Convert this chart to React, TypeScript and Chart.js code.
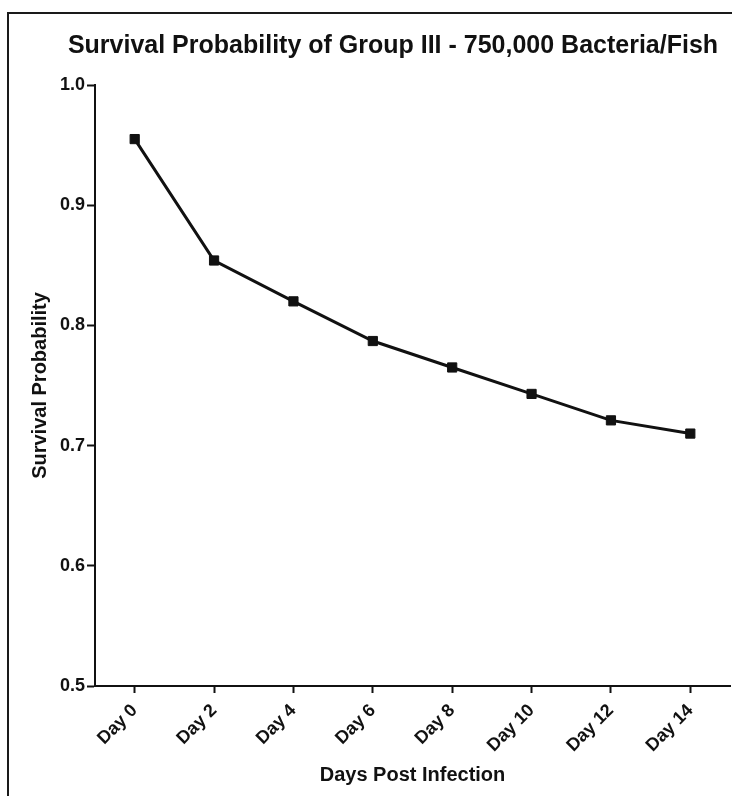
import React, { useEffect, useRef } from "react";
import { Chart, registerables } from "chart.js";

Chart.register(...registerables);

const categories = ["Day 0", "Day 2", "Day 4", "Day 6", "Day 8", "Day 10", "Day 12", "Day 14"];
const survival = [0.955, 0.854, 0.820, 0.787, 0.765, 0.743, 0.721, 0.710];
const yTicks = [0.5, 0.6, 0.7, 0.8, 0.9, 1.0];

const titleText = "Survival Probability of Group III - 750,000 Bacteria/Fish";
const xTitle = "Days Post Infection";
const yTitle = "Survival Probability";

const FAMILY = "'Liberation Sans', Arial, Helvetica, sans-serif";

const framePlugin = {
  id: "frame",
  beforeDraw(chart: any) {
    const ctx = chart.ctx;
    ctx.save();
    ctx.fillStyle = "#ffffff";
    ctx.fillRect(0, 0, chart.width, chart.height);
    ctx.fillStyle = "#1a1a1a";
    ctx.fillRect(7, 12, 2, chart.height - 12);
    ctx.fillRect(7, 12, chart.width - 7, 2);
    ctx.restore();
  },
  afterDraw(chart: any) {
    const ctx = chart.ctx;
    ctx.save();
    ctx.fillStyle = "#111111";
    ctx.font = `bold 25px ${FAMILY}`;
    ctx.textAlign = "center";
    ctx.textBaseline = "middle";
    ctx.fillText(titleText, 393, 46);
    ctx.restore();
  },
};

export default function App() {
  const ref = useRef<HTMLCanvasElement | null>(null);

  useEffect(() => {
    if (!ref.current) return;
    const chart = new Chart(ref.current, {
      type: "line",
      data: {
        labels: categories,
        datasets: [
          {
            data: survival,
            borderColor: "#111111",
            backgroundColor: "#111111",
            borderWidth: 3,
            pointStyle: "rect",
            pointRadius: 6.5,
            pointBorderWidth: 1,
            pointBackgroundColor: "#111111",
            pointBorderColor: "#111111",
            tension: 0,
            fill: false,
            clip: false,
          },
        ],
      },
      options: {
        animation: false,
        responsive: false,
        maintainAspectRatio: false,
        layout: { autoPadding: false, padding: { left: 28, top: 85, right: 2, bottom: 9 } },
        plugins: {
          legend: { display: false },
          tooltip: { enabled: false },
          title: { display: false },
        },
        scales: {
          x: {
            type: "category",
            offset: true,
            afterFit: (s: any) => {
              s.height = 101;
              s.paddingLeft = 0;
              s.paddingRight = 0;
            },
            grid: {
              display: true,
              drawOnChartArea: false,
              drawTicks: true,
              tickLength: 7,
              tickWidth: 2,
              tickColor: "#111111",
              offset: false,
            },
            border: { display: true, color: "#111111", width: 2 },
            ticks: {
              color: "#111111",
              font: { family: FAMILY, size: 18, weight: "bold" },
              minRotation: 45,
              maxRotation: 45,
              padding: 7,
              autoSkip: false,
            },
            title: {
              display: true,
              text: xTitle,
              color: "#111111",
              font: { family: FAMILY, size: 20, weight: "bold", lineHeight: 1.2 },
              padding: 0,
            },
          },
          y: {
            type: "linear",
            min: 0.5,
            max: 1.0,
            afterFit: (s: any) => {
              s.width = 67;
              s.paddingTop = 0;
              s.paddingBottom = 0;
            },
            afterBuildTicks: (s: any) => {
              s.ticks = yTicks.map((v) => ({ value: v }));
            },
            grid: {
              display: true,
              drawOnChartArea: false,
              drawTicks: true,
              tickLength: 8,
              tickWidth: 2,
              tickColor: "#111111",
            },
            border: { display: true, color: "#111111", width: 2 },
            ticks: {
              color: "#111111",
              font: { family: FAMILY, size: 18, weight: "bold" },
              padding: 2,
              callback: (v: any) => Number(v).toFixed(1),
            },
            title: {
              display: true,
              text: yTitle,
              color: "#111111",
              font: { family: FAMILY, size: 20, weight: "bold", lineHeight: 1.2 },
              padding: 0,
            },
          },
        },
      },
      plugins: [framePlugin],
    });
    return () => chart.destroy();
  }, []);

  return (
    <div style={{ position: "fixed", left: 0, top: 0, width: 732, height: 796 }}>
      <canvas ref={ref} width={732} height={796} style={{ width: 732, height: 796, display: "block" }} />
    </div>
  );
}
